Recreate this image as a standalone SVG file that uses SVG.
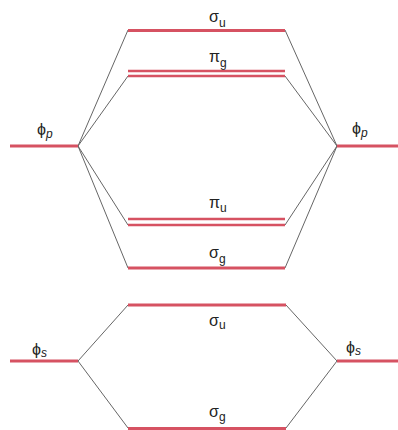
<svg xmlns="http://www.w3.org/2000/svg" width="398" height="430" viewBox="0 0 398 430">
<style>
.lvl{stroke:#d65262;stroke-width:3.2;fill:none}
.dbl{stroke:#d65262;stroke-width:2.4;fill:none}
.con{stroke:#666;stroke-width:1;fill:none}
text{font-family:"Liberation Sans",Arial,sans-serif;fill:#222}
.m{font-size:16px}
.s{font-size:12px}
</style>
<rect width="398" height="430" fill="#fff"/>
<g id="connectors">
<path class="con" d="M78 146 L128 30 M78 146 L128 76 M78 146 L128 225 M78 146 L128 268"/>
<path class="con" d="M337 146 L285 30 M337 146 L285 76 M337 146 L285 225 M337 146 L285 268"/>
<path class="con" d="M78 361 L128 305 M78 361 L128 428 M337 361 L286 305 M337 361 L286 428"/>
</g>
<g id="sigma_u_p"><line class="lvl" x1="128" y1="30.5" x2="285" y2="30.5"/><text x="209" y="22" class="m">σ<tspan class="s" dy="5">u</tspan></text></g>
<g id="pi_g"><line class="dbl" x1="128" y1="71" x2="285" y2="71"/><line class="dbl" x1="128" y1="76" x2="285" y2="76"/><text x="209" y="62" class="m">π<tspan class="s" dy="5">g</tspan></text></g>
<g id="phi_p_left"><line class="lvl" x1="10" y1="146" x2="78" y2="146"/><text x="37" y="135" class="m">ϕ<tspan class="s" dy="3" font-style="italic">p</tspan></text></g>
<g id="phi_p_right"><line class="lvl" x1="337" y1="146" x2="398" y2="146"/><text x="352" y="134" class="m">ϕ<tspan class="s" dy="3" font-style="italic">p</tspan></text></g>
<g id="pi_u"><line class="dbl" x1="128" y1="219" x2="285" y2="219"/><line class="dbl" x1="128" y1="225" x2="285" y2="225"/><text x="209" y="208" class="m">π<tspan class="s" dy="4">u</tspan></text></g>
<g id="sigma_g_p"><line class="lvl" x1="128" y1="268" x2="285" y2="268"/><text x="209" y="258" class="m">σ<tspan class="s" dy="5">g</tspan></text></g>
<g id="sigma_u_s"><line class="lvl" x1="128" y1="305" x2="286" y2="305"/><text x="209" y="326" class="m">σ<tspan class="s" dy="3">u</tspan></text></g>
<g id="phi_s_left"><line class="lvl" x1="10" y1="361" x2="78" y2="361"/><text x="32" y="355" class="m">ϕ<tspan class="s" dy="2" font-style="italic">s</tspan></text></g>
<g id="phi_s_right"><line class="lvl" x1="337" y1="361" x2="398" y2="361"/><text x="346" y="353" class="m">ϕ<tspan class="s" dy="2" font-style="italic">s</tspan></text></g>
<g id="sigma_g_s"><line class="lvl" x1="128" y1="428.5" x2="286" y2="428.5"/><text x="209" y="417" class="m">σ<tspan class="s" dy="4">g</tspan></text></g>
</svg>
